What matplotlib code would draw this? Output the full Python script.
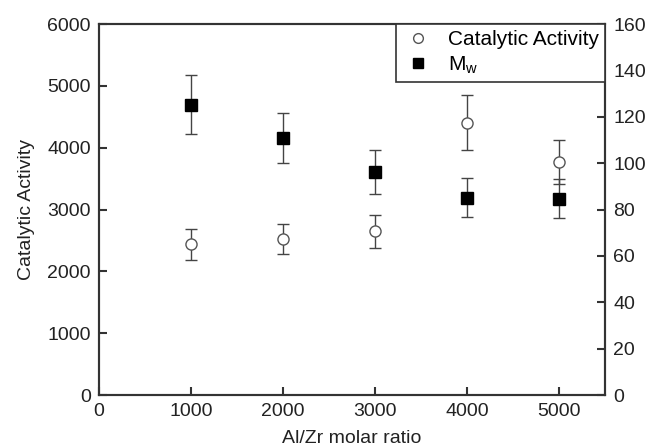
import matplotlib
matplotlib.use('Agg')
import matplotlib.pyplot as plt
from matplotlib.lines import Line2D

plt.rcParams['font.family'] = ['Liberation Sans', 'DejaVu Sans']

ratio = [1000, 2000, 3000, 4000, 5000]
activity = [2440, 2520, 2645, 4405, 3765]
activity_err = [250, 245, 265, 445, 355]
mw = [125.1, 110.9, 96.2, 85.0, 84.6]
mw_err = [12.7, 10.7, 9.3, 8.4, 8.4]

spine_col = '#333333'

fig = plt.figure(figsize=(6.48, 4.47), dpi=100)
ax = fig.add_axes([0.1528, 0.1163, 0.7808, 0.83])
ax2 = ax.twinx()

ax.errorbar(ratio, activity, yerr=activity_err, fmt='o', mfc='white', mec='#555555',
            ecolor='#444444', elinewidth=1, capsize=4, ms=8, mew=1)
ax2.errorbar(ratio, mw, yerr=mw_err, fmt='s', mfc='black', mec='black',
             ecolor='#444444', elinewidth=1, capsize=4, ms=8)

ax.set_xlim(0, 5500)
ax.set_ylim(0, 6000)
ax2.set_ylim(0, 160)
ax.set_xticks(range(0, 6000, 1000))
ax.set_yticks(range(0, 7000, 1000))
ax2.set_yticks(range(0, 180, 20))

for a in (ax, ax2):
    a.tick_params(direction='in', length=6, width=1.5, colors=spine_col,
                  labelsize=14, labelcolor='#222222', pad=6)
    for s in a.spines.values():
        s.set_linewidth(1.5)
        s.set_color(spine_col)
ax.tick_params(axis='x', pad=6)

ax.set_xlabel('Al/Zr molar ratio', fontsize=14, color='#222222', labelpad=7)
ax.set_ylabel('Catalytic Activity', fontsize=14, color='#222222', labelpad=9)

handles = [
    Line2D([], [], ls='none', marker='o', mfc='white', mec='#555555', ms=7, mew=1),
    Line2D([], [], ls='none', marker='s', mfc='black', mec='black', ms=7),
]
leg = ax2.legend(handles, ['Catalytic Activity', 'M$_\\mathregular{w}$'],
                 loc='upper right', borderaxespad=0, fancybox=False,
                 framealpha=1, edgecolor=spine_col, fontsize=15,
                 handlelength=1.5, handletextpad=0.7, borderpad=0.3,
                 labelspacing=0.25)
leg.get_frame().set_linewidth(1.2)

fig.savefig('out.png', dpi=100)
